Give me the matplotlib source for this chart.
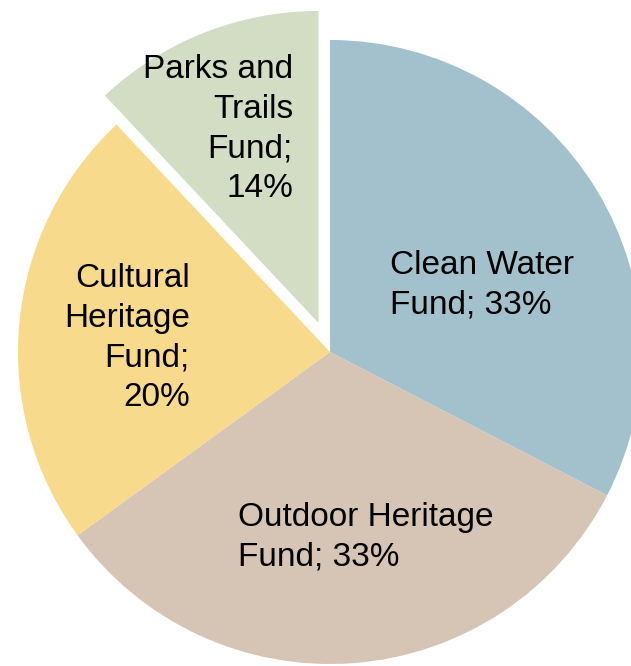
import numpy as np
import matplotlib.pyplot as plt

plt.rcParams['font.family'] = ['Liberation Sans', 'DejaVu Sans']

# slice shares, labels as printed
funds = ['Clean Water', 'Outdoor Heritage', 'Cultural Heritage', 'Parks and Trails']
shares = [32.6, 32.4, 23.0, 12.0]
label_text = ['Clean Water\nFund; 33%',
              'Outdoor Heritage\nFund; 33%',
              'Cultural\nHeritage\nFund;\n20%',
              'Parks and\nTrails\nFund;\n14%']
colors = ['#a2c1cc', '#d6c4b4', '#f8da8c', '#d3ddc4']
explode = [0, 0, 0, 0.1]

W, H = 631, 666
cx, cy, R = 330, 352, 312

fig = plt.figure(figsize=(W / 100, H / 100), dpi=100)
ax = fig.add_axes([0, 0, 1, 1])
ax.pie(shares, colors=colors, explode=explode, startangle=90,
       counterclock=False, radius=1, wedgeprops=dict(linewidth=0))
ax.set_xlim(-cx / R, (W - cx) / R)
ax.set_ylim(-(H - cy) / R, cy / R)
ax.set_aspect('auto')
ax.axis('off')

# label anchors in pixels (x, y, align)
lab_pos = [(390, 285, 'left'), (238, 537, 'left'),
           (190, 338, 'right'), (293, 129, 'right')]
for txt, (px, py, ha) in zip(label_text, lab_pos):
    ax.text((px - cx) / R, (cy - py) / R, txt, ha=ha, va='center',
            multialignment=ha, fontsize=24, linespacing=1.37, color='black')

fig.savefig('out.png', dpi=100)
